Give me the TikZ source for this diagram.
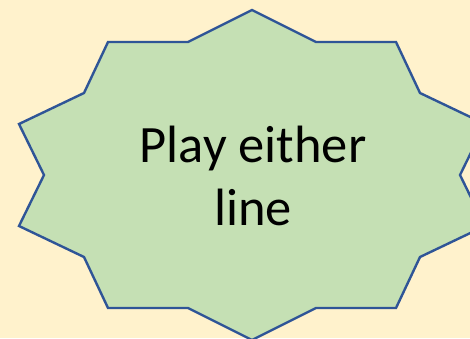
\documentclass[tikz,border=0pt]{standalone}
\usepackage{fontspec}
\setmainfont{Carlito}
\usetikzlibrary{positioning}

\definecolor{paper}{HTML}{FFF2CC}
\definecolor{leaf}{HTML}{C5E0B4}
\definecolor{rim}{HTML}{2F5597}

\begin{document}
\begin{tikzpicture}[x=1pt,y=-1pt,
  burst/.style={draw=rim,fill=leaf,line width=2.4pt,line join=miter},
  cue/.style={align=center,inner sep=0pt,font=\fontsize{52.5}{63}\selectfont}]

\fill[paper] (0,0) rectangle (470,338);
\useasboundingbox (0,0) rectangle (470,338);

% ten point star
\draw[burst] (252,10) -- (316,42) -- (396,42) -- (420,93) -- (485,124)
  -- (460,175) -- (485,226) -- (420,257) -- (396,308) -- (316,308)
  -- (252,340) -- (188,308) -- (108,308) -- (84,257) -- (19,226)
  -- (44,175) -- (19,124) -- (84,93) -- (108,42) -- (188,42) -- cycle;

\node[cue] (play) at (253,176) {Play either\\line};

\end{tikzpicture}
\end{document}
